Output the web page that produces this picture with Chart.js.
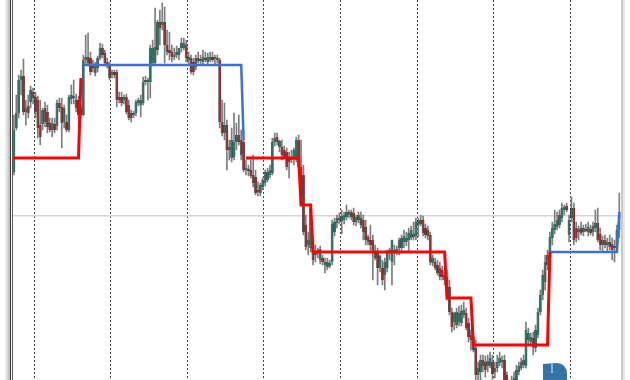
<!DOCTYPE html>
<html>
<head>
<meta charset="utf-8">
<script src="https://cdn.jsdelivr.net/npm/chart.js@4/dist/chart.umd.min.js"></script>
<style>
  html, body { margin: 0; padding: 0; background: #fff; }
  #wrap { width: 630px; height: 380px; }
</style>
</head>
<body>
<div id="wrap"><canvas id="chart" width="630" height="380"></canvas></div>
<script>
// OHLC prices, one per bar
const opens = [
  328,372,387,420,424,388,394,398,408,403,
  400,375,376,392,388,377,370,376,374,397,
  393,378,378,370,401,402,400,400,392,385,
  440,443,442,434,427,432,442,452,447,438,
  435,425,428,428,403,403,400,403,395,387,
  385,387,397,395,397,418,418,418,437,437,
  450,478,475,478,455,450,448,443,445,445,
  452,452,455,440,442,438,433,442,439,438,
  442,438,440,443,441,442,440,378,367,375,
  350,342,343,358,365,360,358,330,330,330,
  325,323,310,307,313,317,320,325,327,358,
  363,353,353,350,348,343,340,342,340,360,
  333,325,275,255,252,260,248,247,240,242,
  235,233,234,238,268,277,280,279,280,283,
  285,288,287,278,280,282,280,273,263,260,
  260,248,247,232,232,225,232,247,238,248,
  247,252,252,258,258,260,262,263,264,275,
  280,280,272,270,265,237,238,235,232,230,
  225,223,213,188,178,175,178,177,185,187,
  177,165,163,152,125,128,140,138,134,134,
  138,128,132,137,138,140,125,112,110,115,
  120,128,132,135,134,160,158,162,152,165,
  188,205,218,235,242,262,270,273,275,282,
  290,294,265,282,292,272,268,272,268,271,
  268,271,268,272,277,266,255,260,255,258,
  256,252,253,270
];
const highs = [
  385,405,425,430,441,400,405,414,412,408,
  404,400,392,398,395,382,382,382,400,402,
  402,395,385,405,415,420,406,404,395,445,
  465,467,448,440,438,444,457,456,450,442,
  438,430,430,430,408,408,405,406,400,390,
  389,400,402,405,423,424,422,455,460,492,
  480,490,497,493,470,468,455,452,454,452,
  462,462,460,448,445,442,445,448,445,450,
  448,447,448,448,445,445,442,400,397,380,
  360,372,387,377,385,370,362,340,335,340,
  345,330,318,317,322,330,332,335,362,367,
  367,360,360,354,352,348,350,352,363,365,
  360,335,285,268,295,264,255,252,254,245,
  242,242,240,280,282,285,287,290,288,295,
  290,290,292,285,288,288,285,280,265,275,
  265,255,252,245,240,242,250,252,260,255,
  254,262,265,270,268,272,274,278,282,282,
  285,284,276,274,268,245,242,240,238,234,
  228,230,220,192,188,192,194,195,198,192,
  182,170,167,160,138,145,145,144,145,148,
  145,138,145,148,144,145,128,120,124,128,
  135,138,142,145,178,172,167,168,175,192,
  210,230,245,250,268,278,290,288,290,297,
  295,297,285,303,297,278,274,278,275,276,
  278,275,278,290,292,272,264,265,262,265,
  262,260,275,307
];
const lows = [
  325,370,382,405,385,375,382,392,396,382,
  362,355,370,373,367,368,363,367,370,388,
  352,372,368,368,396,396,388,382,382,384,
  436,434,425,428,424,428,440,442,434,432,
  420,422,422,393,397,394,396,386,380,378,
  382,384,394,383,395,415,400,402,434,435,
  445,455,470,437,445,440,438,440,442,440,
  448,450,438,436,426,425,430,437,436,436,
  438,436,438,438,436,437,372,364,360,330,
  340,338,340,350,355,340,328,325,324,322,
  313,305,304,304,310,314,318,322,325,354,
  355,348,340,342,330,322,337,335,338,330,
  300,265,250,245,248,235,238,242,236,235,
  227,230,232,235,264,272,276,266,276,280,
  282,280,275,274,277,272,260,255,255,250,
  220,240,215,228,215,210,228,240,215,235,
  245,245,247,252,254,248,260,260,260,263,
  274,264,262,260,235,234,230,225,220,220,
  215,200,185,168,170,172,174,174,182,170,
  158,150,148,120,118,120,128,123,128,132,
  120,122,128,134,132,115,110,105,105,110,
  118,125,130,132,132,155,155,145,148,162,
  185,200,210,230,238,255,266,270,272,278,
  285,288,258,278,255,258,260,265,264,268,
  264,265,264,268,258,250,248,252,248,250,
  240,238,248,262
];
const closes = [
  370,387,420,424,388,392,387,410,402,388,
  372,363,390,378,373,370,377,370,397,392,
  377,392,370,403,405,404,392,385,385,440,
  443,437,428,432,435,442,452,445,437,435,
  422,428,425,400,400,397,403,388,382,382,
  387,398,400,400,418,420,420,452,452,453,
  478,472,478,455,448,447,443,445,448,452,
  457,457,442,443,428,428,442,439,441,443,
  440,443,443,440,442,440,378,367,375,350,
  353,360,358,365,358,345,330,332,329,324,
  317,307,308,315,320,328,328,330,358,362,
  358,359,345,343,333,338,343,350,360,333,
  303,268,253,260,292,240,245,250,251,238,
  238,238,237,276,278,282,281,284,285,288,
  288,283,278,283,285,275,268,260,258,255,
  247,242,232,244,220,238,247,250,260,250,
  251,260,262,264,262,267,270,266,278,280,
  276,267,265,264,238,242,232,227,223,223,
  220,208,188,173,187,188,187,189,190,172,
  163,160,150,125,132,140,134,130,139,142,
  126,132,138,142,140,117,112,110,115,122,
  130,134,138,140,170,167,163,153,170,188,
  205,225,238,245,263,272,276,280,285,292,
  293,290,280,292,260,262,271,267,272,269,
  273,267,274,277,260,255,260,255,258,253,
  250,254,270,288
];

// step indicator, red and blue legs
const redLevel = [
  342,342,342,342,342,342,342,342,342,342,
  342,342,342,342,342,342,342,342,342,342,
  342,342,342,342,342,342,342,342,422,null,
  null,null,null,null,null,null,null,null,null,null,
  null,null,null,null,null,null,null,null,null,null,
  null,null,null,null,null,null,null,null,null,null,
  null,null,null,null,null,null,null,null,null,null,
  null,null,null,null,null,null,null,null,null,null,
  null,null,null,null,null,null,null,null,null,null,
  null,null,null,null,null,null,null,342,342,342,
  342,342,342,342,342,342,342,342,342,342,
  342,342,342,342,342,342,342,342,342,342,
  295,295,295,295,295,248,248,248,248,248,
  248,248,248,248,248,248,248,248,248,248,
  248,248,248,248,248,248,248,248,248,248,
  248,248,248,248,248,248,248,248,248,248,
  248,248,248,248,248,248,248,248,248,248,
  248,248,248,248,248,248,248,248,248,248,
  248,202,202,202,202,202,202,202,202,202,
  202,202,155,155,155,155,155,155,155,155,
  155,155,155,155,155,155,155,155,155,155,
  155,155,155,155,155,155,155,155,155,155,
  155,155,155,155,248,null,null,null,null,null,
  null,null,null,null,null,null,null,null,null,null,
  null,null,null,null,null,null,null,null,null,null,
  null,null,null,null
];
const blueLevel = [
  null,null,null,null,null,null,null,null,null,null,
  null,null,null,null,null,null,null,null,null,null,
  null,null,null,null,null,null,null,null,null,435,
  435,435,435,435,435,435,435,435,435,435,
  435,435,435,435,435,435,435,435,435,435,
  435,435,435,435,435,435,435,435,435,435,
  435,435,435,435,435,435,435,435,435,435,
  435,435,435,435,435,435,435,435,435,435,
  435,435,435,435,435,435,435,435,435,435,
  435,435,435,435,435,435,360,null,null,null,
  null,null,null,null,null,null,null,null,null,null,
  null,null,null,null,null,null,null,null,null,null,
  null,null,null,null,null,null,null,null,null,null,
  null,null,null,null,null,null,null,null,null,null,
  null,null,null,null,null,null,null,null,null,null,
  null,null,null,null,null,null,null,null,null,null,
  null,null,null,null,null,null,null,null,null,null,
  null,null,null,null,null,null,null,null,null,null,
  null,null,null,null,null,null,null,null,null,null,
  null,null,null,null,null,null,null,null,null,null,
  null,null,null,null,null,null,null,null,null,null,
  null,null,null,null,null,null,null,null,null,null,
  null,null,null,null,248,248,248,248,248,248,
  248,248,248,248,248,248,248,248,248,248,
  248,248,248,248,248,248,248,248,248,248,
  248,248,248,288
];

const daySeparators = [9, 41, 73, 105, 137, 169, 201, 233]; // first bar of each session
const bidLevel = 284;
const priceMin = 120, priceMax = 500;

const labels = closes.map((_, i) => i);
const bullColor = '#2a7466';
const bearColor = '#8f3030';

const frame = {
  id: 'frame',
  afterDraw(chart) {
    const c = chart.ctx;
    const h = chart.height;
    c.save();
    // left window edge
    const g = c.createLinearGradient(4, 0, 10, 0);
    g.addColorStop(0, 'rgba(200,200,200,0)');
    g.addColorStop(1, 'rgba(170,170,170,0.9)');
    c.fillStyle = g;
    c.fillRect(4, 0, 6, h);
    c.fillStyle = '#3a3a3a';
    c.fillRect(10, 0, 1, h);
    c.fillStyle = '#5a5a5a';
    c.fillRect(12, 0, 1, h);
    // right window edge
    c.fillStyle = '#c9c9c9';
    c.fillRect(621, 0, 2, h);
    c.fillStyle = '#e6e6e6';
    c.fillRect(623, 0, 2, h);
    // watermark logo, cut by the bottom edge
    c.fillStyle = '#3574a5';
    c.beginPath();
    c.moveTo(543, 380);
    c.lineTo(543, 364);
    c.lineTo(557, 363);
    c.quadraticCurveTo(567, 364, 567, 374);
    c.lineTo(567, 380);
    c.closePath();
    c.fill();
    c.fillStyle = '#8fb3d1';
    c.fillRect(551, 364, 2, 9);
    c.restore();
  }
};

new Chart(document.getElementById('chart'), {
  type: 'bar',
  data: {
    labels: labels,
    datasets: [
      {
        type: 'line',
        data: redLevel,
        borderColor: '#ff0000',
        borderWidth: 3,
        pointRadius: 0,
        spanGaps: false,
        order: 0
      },
      {
        type: 'line',
        data: blueLevel,
        borderColor: '#3d6fd9',
        borderWidth: 2.5,
        pointRadius: 0,
        spanGaps: false,
        order: 0
      },
      {
        data: opens.map((o, i) => [o, closes[i]]),
        backgroundColor: opens.map((o, i) => closes[i] >= o ? bullColor : bearColor),
        borderColor: 'rgba(25,25,25,0.7)',
        borderWidth: { left: 1, right: 0, top: 0, bottom: 0 },
        borderSkipped: false,
        inflateAmount: 0,
        barThickness: 3,
        minBarLength: 2,
        grouped: false,
        order: 1
      },
      {
        data: lows.map((l, i) => [l, highs[i]]),
        backgroundColor: '#7d7d7d',
        barThickness: 1,
        grouped: false,
        order: 2
      }
    ]
  },
  options: {
    responsive: false,
    animation: false,
    layout: { padding: { left: 12.7, right: 9.5, top: 0, bottom: 0 } },
    plugins: { legend: { display: false }, tooltip: { enabled: false } },
    scales: {
      x: {
        type: 'category',
        offset: true,
        ticks: { display: false, autoSkip: false },
        border: { display: false, dash: [2, 2] },
        grid: {
          offset: true,
          drawTicks: false,
          lineWidth: 1,
          color: (ctx) => daySeparators.includes(ctx.index) ? '#444444' : 'rgba(0,0,0,0)'
        }
      },
      y: {
        min: priceMin,
        max: priceMax,
        ticks: { display: false },
        border: { display: false },
        grid: { drawTicks: false, color: '#d6d6d6', lineWidth: 1.5 },
        afterBuildTicks: (scale) => { scale.ticks = [{ value: bidLevel }]; }
      }
    }
  },
  plugins: [frame]
});
</script>
</body>
</html>
